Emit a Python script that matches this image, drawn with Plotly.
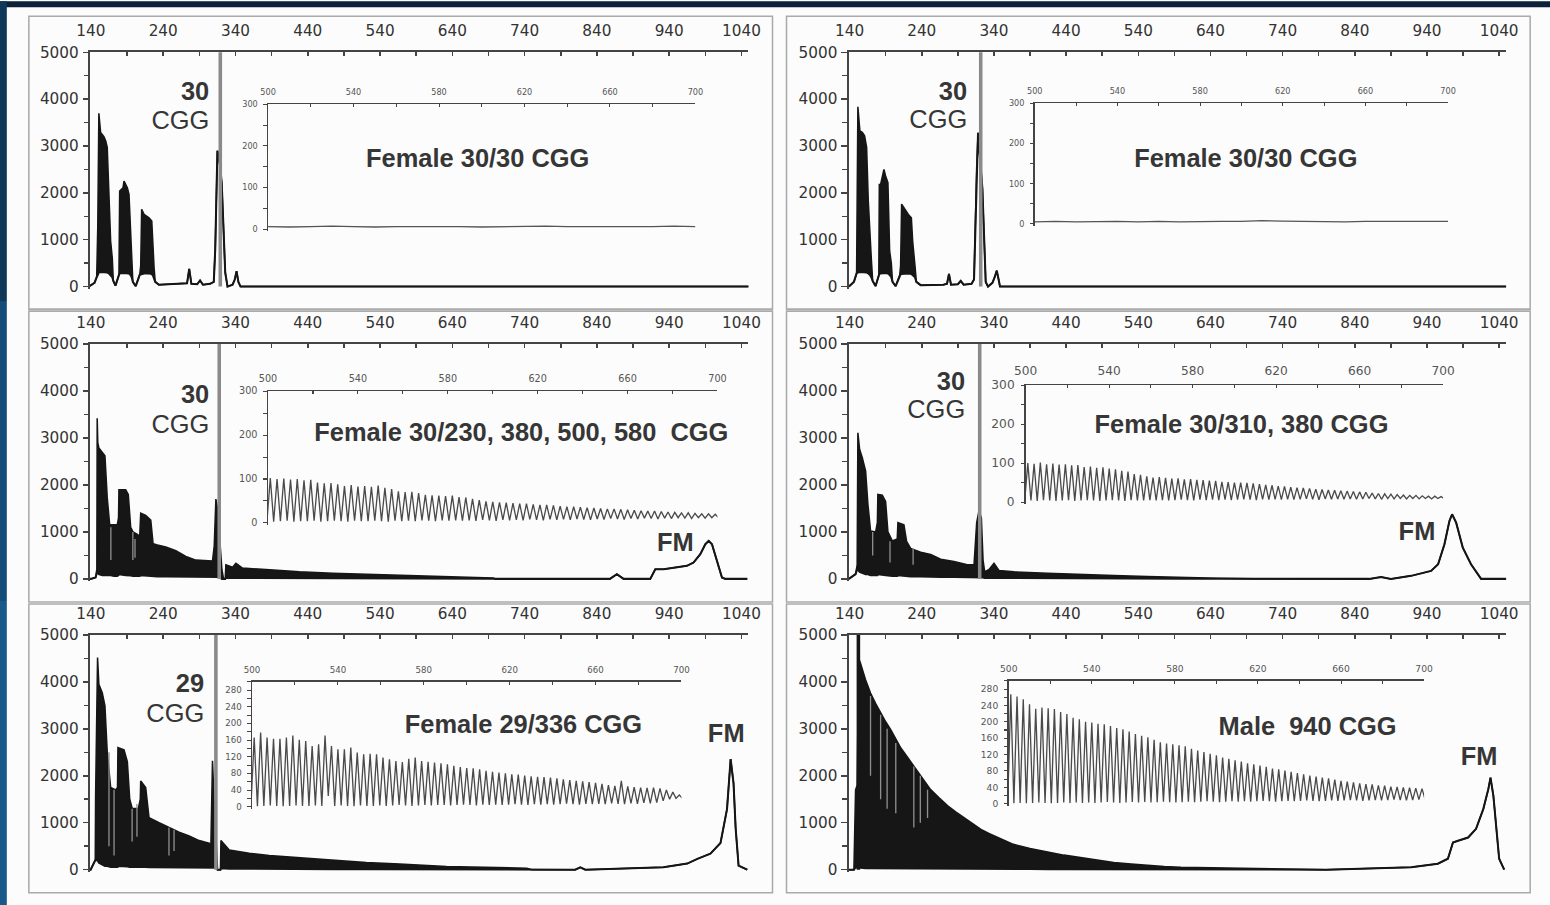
import plotly.graph_objects as go

W, H = 1550, 905

# ------------------------------------------------------------------ data
# Main electropherograms: fragment size (bp), upper and lower envelope of the trace (RFU)
p1_bp = [137, 140, 145, 148, 149.5, 151, 153.4, 158, 160.4, 162.6, 165, 167.3, 169.6, 171, 174, 178.8, 179.8, 184.4, 185.8, 190.4, 192.7, 195.1, 196.4, 198, 202, 207.5, 208.9, 210.2, 213.5, 220.4, 224.2, 226, 227.4, 229, 234, 260, 273, 276, 279, 287, 291, 295, 305, 310, 312, 315, 318.5, 321, 323, 325.8, 329, 336, 339, 341.5, 344, 347, 1050]
p1_hi = [0, 30, 80, 200, 1300, 3700, 3290, 3200, 3110, 2970, 1830, 970, 600, 120, 20, 250, 2040, 2110, 2250, 2110, 1970, 1110, 600, 100, 10, 250, 450, 1650, 1540, 1470, 1400, 760, 400, 100, 40, 60, 70, 380, 60, 50, 130, 40, 60, 100, 800, 2900, 2600, 2200, 1200, 300, 0, 40, 150, 330, 100, 0, 0]
p1_lo = [0, 30, 80, 200, 250, 300, 310, 310, 300, 300, 280, 250, 200, 120, 20, 250, 280, 290, 290, 290, 280, 240, 200, 100, 10, 250, 260, 270, 280, 280, 270, 230, 180, 100, 40, 60, 70, 380, 60, 50, 130, 40, 60, 100, 800, 2900, 2600, 2200, 1200, 300, 0, 40, 150, 330, 100, 0, 0]

p2_bp = [139, 146, 149.7, 151.5, 154.3, 157.6, 160.8, 163.6, 165.9, 168.2, 170.1, 172, 176, 180.5, 181.2, 183, 187.6, 189.9, 193.1, 195.5, 197.8, 199.5, 203.8, 209.5, 210.7, 212.1, 216.3, 221.4, 225.6, 227.4, 230.6, 232.5, 238.5, 270, 275, 277.7, 280.5, 290, 294, 298, 309, 312.4, 316, 318, 324, 326.3, 328.6, 331.8, 337.9, 341, 343.9, 346.5, 348.4, 1050]
p2_hi = [0, 100, 280, 3835, 3320, 3290, 3220, 2970, 1830, 970, 600, 120, 10, 250, 2180, 2180, 2500, 2360, 2220, 760, 500, 100, 10, 250, 450, 1760, 1650, 1540, 1470, 970, 450, 100, 30, 40, 60, 270, 40, 50, 120, 40, 60, 150, 2500, 3280, 2090, 800, 100, 0, 80, 200, 340, 150, 0, 0]
p2_lo = [0, 100, 280, 300, 310, 310, 300, 300, 280, 250, 200, 120, 10, 250, 270, 280, 290, 290, 280, 250, 200, 100, 10, 250, 260, 270, 280, 280, 270, 240, 200, 100, 30, 40, 60, 270, 40, 50, 120, 40, 60, 150, 2500, 3280, 2090, 800, 100, 0, 80, 200, 340, 150, 0, 0]

p3_bp = [137, 139.6, 146.5, 148.2, 148.7, 149.5, 151, 155.7, 159.4, 162.6, 165.9, 171.9, 176.5, 178.2, 178.8, 188.1, 191.7, 195, 198.2, 204.2, 207.5, 208.9, 215.8, 222.8, 226, 232, 243.6, 257.5, 271.3, 285.2, 299, 308.2, 310.6, 312.9, 315.2, 317.5, 321.2, 323.5, 325.8, 326.7, 336, 340.6, 349.8, 382, 428.4, 474.6, 521, 567, 590, 640, 696.5, 700, 858, 867.6, 877, 913.8, 920.8, 932.3, 946, 964.5, 973.7, 983, 990, 994.6, 999.2, 1006, 1013, 1017.8, 1048]
p3_hi = [0, 0, 30, 200, 3420, 2900, 2790, 2690, 2620, 1730, 1160, 1150, 1150, 1300, 1900, 1900, 1800, 1100, 1000, 950, 900, 1400, 1350, 1250, 750, 720, 680, 600, 480, 400, 380, 380, 700, 1700, 1500, 900, 200, 0, 0, 300, 250, 330, 230, 200, 150, 120, 100, 80, 60, 40, 20, 0, 0, 100, 0, 0, 206, 206, 241, 277, 348, 525, 738, 809, 738, 383, 28, 0, 0]
p3_lo = [0, 0, 30, 150, 150, 150, 100, 80, 80, 80, 80, 60, 60, 80, 100, 80, 80, 70, 60, 60, 60, 80, 70, 60, 50, 50, 50, 50, 40, 40, 40, 40, 40, 40, 40, 40, 0, 0, 0, 20, 20, 20, 20, 15, 10, 10, 10, 8, 5, 5, 5, 0, 0, 100, 0, 0, 206, 206, 241, 277, 348, 525, 738, 809, 738, 383, 28, 0, 0]

p4_bp = [139, 148.3, 150.5, 151.5, 153.9, 157.6, 162.2, 165.4, 169.1, 176.1, 178.5, 179.2, 185.3, 189.9, 193.1, 199.2, 206, 207, 215.3, 219, 224.6, 238.5, 252.3, 266.2, 284.6, 303.2, 312.4, 316.1, 319.3, 322.6, 324.9, 327.2, 333.2, 340.1, 347, 367.8, 414.2, 460.4, 506.5, 552.8, 599, 651, 700, 860, 876.4, 890, 918, 945.7, 955.4, 964.2, 971.1, 974.8, 980.4, 989.6, 1001, 1015, 1050]
p4_hi = [0, 100, 300, 3110, 2760, 2580, 2300, 1590, 1020, 1000, 1200, 1800, 1780, 1650, 1000, 810, 850, 1200, 1150, 800, 650, 570, 520, 420, 370, 300, 300, 1200, 1450, 1300, 400, 150, 200, 330, 180, 150, 120, 90, 70, 50, 40, 15, 0, 0, 40, 0, 64, 170, 312, 738, 1234, 1376, 1198, 666, 312, 0, 0]
p4_lo = [0, 100, 200, 200, 150, 120, 100, 100, 80, 80, 80, 100, 80, 80, 70, 60, 60, 80, 70, 60, 50, 50, 40, 40, 40, 40, 40, 40, 40, 40, 30, 20, 20, 20, 20, 15, 12, 10, 8, 6, 5, 3, 0, 0, 40, 0, 64, 170, 312, 738, 1234, 1376, 1198, 666, 312, 0, 0]

p5_bp = [137, 139.6, 146, 146.5, 149.2, 151, 155.7, 159.4, 162.6, 167.3, 174.2, 176.8, 177.4, 185.8, 190.4, 193.7, 197.3, 205.6, 208.3, 208.9, 215.8, 220.4, 234.3, 248.2, 262, 275.9, 289.8, 306, 308.2, 310.6, 313.5, 315.2, 319.2, 319.9, 331.4, 359, 386.8, 428.4, 474.6, 521, 567, 632, 743, 750, 810, 817, 824, 932, 965, 979, 997, 1011, 1020, 1025, 1029, 1032, 1036, 1048]
p5_hi = [0, 0, 200, 1570, 4520, 3950, 3770, 3490, 2500, 1750, 1700, 1750, 2600, 2550, 2300, 1500, 1300, 1300, 1500, 1890, 1750, 1110, 1000, 900, 800, 720, 620, 550, 2320, 1400, 600, 0, 0, 620, 420, 350, 300, 250, 200, 150, 120, 70, 30, 0, 0, 50, 0, 50, 130, 230, 340, 570, 1290, 2355, 1845, 870, 85, 0]
p5_lo = [0, 0, 200, 200, 200, 150, 100, 80, 80, 60, 60, 60, 80, 80, 70, 60, 60, 60, 60, 70, 60, 50, 50, 40, 40, 40, 40, 40, 40, 40, 40, 0, 0, 30, 20, 20, 15, 15, 10, 10, 8, 5, 3, 0, 0, 50, 0, 50, 130, 230, 340, 570, 1290, 2355, 1845, 870, 85, 0]

p6_bp = [139, 146, 148.3, 150.5, 152.5, 155, 162, 169, 176, 183, 190, 197, 204, 211, 220, 229, 240, 252, 264, 276, 287, 298, 310, 322, 333, 345, 356, 367, 390, 415, 437, 460, 483, 506, 530, 553, 576, 599, 640, 680, 720, 765, 800, 918, 955, 969, 976, 983, 997, 1008, 1018, 1025, 1028, 1032, 1036, 1040, 1047]
p6_hi = [0, 0, 1700, 1800, 4500, 4400, 4050, 3760, 3540, 3340, 3150, 2980, 2780, 2590, 2400, 2200, 1950, 1710, 1530, 1360, 1230, 1110, 980, 860, 770, 690, 610, 540, 450, 370, 310, 260, 200, 155, 120, 85, 65, 50, 40, 30, 20, 15, 0, 50, 127, 233, 580, 615, 685, 870, 1290, 1715, 1960, 1570, 870, 233, 0]
p6_lo = [0, 0, 50, 50, 50, 40, 30, 30, 30, 30, 30, 30, 30, 30, 30, 30, 30, 25, 25, 25, 25, 20, 20, 20, 20, 20, 15, 15, 15, 12, 12, 10, 10, 8, 8, 6, 5, 5, 4, 3, 2, 2, 0, 50, 127, 233, 580, 615, 685, 870, 1290, 1715, 1960, 1570, 870, 233, 0]

# lighter streaks (low repeat peaks) visible inside the dense stutter region: bp, from, to (RFU)
streak_bp = [[], [],
             [167.6, 198, 201],
             [172, 196, 228],
             [165, 172, 197, 203.7, 248, 255],
             [169, 183, 192, 204, 229, 238, 248]]
streak_lo = [[], [], [400, 400, 450], [500, 350, 300], [500, 300, 600, 700, 300, 400],
             [2000, 1500, 1300, 1200, 900, 1000, 1100]]
streak_hi = [[], [], [1100, 1000, 850], [1000, 800, 650], [2500, 1700, 1300, 1400, 900, 850],
             [3700, 3300, 3000, 2700, 2200, 2000, 1700]]

# off-scale normal-allele peak (bp) in each panel
normal_peak_bp = [319, 321.7, 317.5, 320.3, 312.9, 152.2]
normal_peak_rfu = [9000, 9000, 9000, 9000, 9000, 9000]

# Insets (500-700 bp): CGG repeat peak positions, peak tops and troughs (RFU)
inset_peak_bp = [501, 504, 507, 510, 513, 516, 519, 522, 525, 528, 531, 534, 537, 540, 543, 546, 549, 552, 555, 558,
                 561, 564, 567, 570, 573, 576, 579, 582, 585, 588, 591, 594, 597, 600, 603, 606, 609, 612, 615, 618,
                 621, 624, 627, 630, 633, 636, 639, 642, 645, 648, 651, 654, 657, 660, 663, 666, 669, 672, 675, 678,
                 681, 684, 687, 690, 693, 696, 699]
i3_top = [102, 100, 101, 99, 100, 97, 98, 92, 90, 91, 88, 84, 86, 83, 84, 82, 85, 80, 77, 72, 70, 71, 68, 64, 63, 62, 61, 62, 59, 58, 55, 52, 49, 48, 47, 46, 45, 44, 44, 42, 41, 41, 40, 38, 37, 37, 36, 35, 34, 33, 32, 32, 31, 30, 29, 28, 27, 27, 26, 25, 24, 23, 23, 22, 21, 21, 20]
i3_bot = [4, 3, 4, 5, 3, 4, 4, 5, 3, 4, 5, 4, 3, 5, 4, 4, 5, 4, 3, 5, 4, 5, 4, 6, 5, 4, 6, 5, 6, 5, 6, 5, 7, 6, 5, 7, 6, 7, 6, 8, 7, 6, 8, 7, 8, 7, 9, 8, 7, 9, 8, 10, 9, 8, 10, 9, 11, 10, 9, 11, 10, 12, 11, 10, 12, 11, 12]
i4_top = [100, 98, 101, 97, 99, 96, 97, 94, 95, 90, 91, 88, 89, 86, 84, 80, 78, 72, 70, 66, 63, 64, 62, 60, 61, 58, 59, 57, 56, 55, 54, 52, 51, 50, 50, 49, 48, 46, 44, 43, 41, 40, 38, 37, 36, 35, 33, 32, 31, 30, 29, 28, 27, 26, 25, 23, 22, 21, 20, 19, 18, 17, 17, 16, 15, 15, 14]
i4_bot = [3, 4, 3, 5, 4, 3, 4, 5, 3, 4, 5, 4, 3, 4, 5, 4, 3, 5, 4, 4, 5, 4, 5, 4, 5, 6, 5, 4, 6, 5, 6, 5, 6, 5, 6, 7, 6, 5, 7, 6, 7, 6, 7, 6, 7, 8, 7, 6, 8, 7, 8, 7, 8, 7, 8, 9, 8, 7, 9, 8, 9, 8, 9, 8, 9, 8, 9]
i5_top = [166, 178, 166, 163, 163, 166, 171, 161, 158, 146, 150, 171, 146, 138, 138, 142, 130, 126, 127, 126, 118, 114, 110, 107, 115, 118, 110, 108, 106, 104, 102, 98, 95, 93, 92, 90, 86, 84, 82, 80, 78, 77, 75, 73, 72, 71, 70, 68, 66, 64, 62, 61, 59, 57, 55, 52, 50, 62, 49, 47, 46, 45, 46, 44, 40, 35, 28]
i5_bot = [2, 1, 2, 3, 2, 1, 2, 3, 2, 2, 3, 2, 26, 2, 3, 2, 1, 3, 2, 2, 3, 2, 3, 4, 3, 2, 3, 4, 3, 4, 4, 3, 4, 5, 4, 3, 5, 4, 5, 4, 5, 6, 5, 4, 6, 5, 6, 5, 6, 7, 6, 5, 7, 6, 7, 6, 8, 7, 6, 8, 7, 9, 8, 10, 14, 18, 20]
i6_top = [267, 262, 255, 243, 232, 235, 233, 231, 224, 219, 210, 206, 200, 198, 195, 194, 190, 185, 182, 176, 170, 166, 162, 156, 150, 147, 145, 143, 140, 134, 130, 126, 122, 118, 113, 110, 106, 103, 99, 96, 93, 90, 86, 84, 81, 78, 75, 72, 69, 66, 64, 62, 59, 56, 54, 52, 50, 48, 47, 45, 44, 42, 41, 40, 39, 38, 37]
i6_bot = [2, 1, 2, 1, 2, 3, 2, 1, 2, 3, 2, 3, 2, 3, 2, 3, 4, 3, 2, 3, 4, 3, 4, 3, 4, 5, 4, 3, 4, 5, 4, 5, 6, 5, 4, 5, 6, 5, 6, 5, 6, 7, 6, 5, 6, 7, 6, 7, 8, 7, 6, 7, 8, 7, 8, 9, 8, 7, 8, 9, 8, 9, 10, 9, 8, 9, 10]
# normal-only samples: flat inset baseline
flat_bp = [500, 510, 520, 530, 540, 550, 560, 570, 580, 590, 600, 610, 620, 630, 640, 650, 660, 670, 680, 690, 700]
i1_rfu = [6, 5, 6, 7, 6, 5, 6, 6, 7, 6, 5, 6, 6, 7, 6, 6, 5, 6, 6, 7, 6]
i2_rfu = [5, 6, 5, 6, 6, 5, 6, 5, 6, 6, 6, 8, 7, 6, 6, 5, 6, 6, 5, 6, 6]

main_tick_bp = [140, 240, 340, 440, 540, 640, 740, 840, 940, 1040]
main_tick_rfu = [0, 1000, 2000, 3000, 4000, 5000]
inset_tick_bp = [500, 540, 580, 620, 660, 700]
inset_tick_rfu_a = [0, 100, 200, 300]
inset_tick_rfu_b = [0, 40, 80, 120, 160, 200, 240, 280]

allele_num = ["30", "30", "30", "30", "29", ""]
titles = ["Female 30/30 CGG", "Female 30/30 CGG", "Female 30/230, 380, 500, 580  CGG",
          "Female 30/310, 380 CGG", "Female 29/336 CGG", "Male  940 CGG"]
fm_label = [False, False, True, True, True, True]

mains = [(p1_bp, p1_hi, p1_lo), (p2_bp, p2_hi, p2_lo), (p3_bp, p3_hi, p3_lo),
         (p4_bp, p4_hi, p4_lo), (p5_bp, p5_hi, p5_lo), (p6_bp, p6_hi, p6_lo)]
insets = [None, None, (i3_top, i3_bot), (i4_top, i4_bot), (i5_top, i5_bot), (i6_top, i6_bot)]
flats = [i1_rfu, i2_rfu, None, None, None, None]

# ------------------------------------------------------------------ layout (pixels)
def fx(x):
    return x / W


def fy(y):
    return 1 - y / H


main_x_px = [(90, 748), (848, 1505)]
main_y_px = [(51, 287.8), (343, 580.3), (634, 871.3)]
inset_px = [  # x0, x1, ytop, ybottom
    (268, 695, 103, 230), (1034, 1447, 102, 224.7),
    (268, 717, 390, 524.2), (1025, 1442, 384, 503),
    (252, 681, 681, 808), (1008, 1423, 680, 805)]
inset_font = [8, 8, 9.5, 12, 8.5, 9]
num_pos = [(211, 90, 119), (969, 90, 118), (211, 393, 422), (967, 380, 408), (206, 682, 712), None]
title_pos = [(478, 157), (1245, 157), (521, 431), (1241, 422), (523, 723), (1307, 725)]
fm_pos = [None, None, (675, 541), (1416, 530), (726, 732), (1478, 755)]
frames = [(29, 15, 772, 308), (786, 15, 1529, 308), (29, 310, 772, 601),
          (786, 310, 1529, 601), (29, 603, 772, 892), (786, 603, 1529, 892)]

AX = '#444444'
TXT = '#333333'
TRACE = '#161616'
LBL = '#363636'

fig = go.Figure()
layout = dict(width=W, height=H, margin=dict(l=0, r=0, t=0, b=0),
              paper_bgcolor='#fcfcfc', plot_bgcolor='rgba(0,0,0,0)', showlegend=False)
annotations = []
shapes = []


def zigzag(bps, tops, bots):
    xs, ys = [], []
    for b, t, lo in zip(bps, tops, bots):
        xs += [b - 1.5, b]
        ys += [lo, t]
    xs.append(bps[-1] + 1.5)
    ys.append(bots[-1])
    return xs, ys


for i in range(6):
    col, row = i % 2, i // 2
    k, ki = i + 1, i + 7
    xa, ya = f"x{k}", f"y{k}"
    xi, yi = f"x{ki}", f"y{ki}"
    x0, x1 = main_x_px[col]
    y0, y1 = main_y_px[row]
    layout[f"xaxis{k}"] = dict(
        domain=[fx(x0), fx(x1)], range=[138.6, 1049.7], anchor=ya, side='top',
        showline=True, linecolor=AX, linewidth=2, showgrid=False, zeroline=False,
        tickmode='array', tickvals=main_tick_bp, ticks='inside', ticklen=4, tickwidth=1.5, tickcolor=AX,
        minor=dict(tick0=140, dtick=50, ticks='inside', ticklen=4, tickwidth=1.5, tickcolor=AX),
        tickfont=dict(family='DejaVu Sans', size=15, color=TXT), ticklabelstandoff=8)
    layout[f"yaxis{k}"] = dict(
        domain=[fy(y1), fy(y0)], range=[-50, 5000], anchor=xa,
        showline=True, linecolor=AX, linewidth=2, showgrid=False, zeroline=False,
        tickmode='array', tickvals=main_tick_rfu, ticks='outside', ticklen=5, tickwidth=1.5, tickcolor=AX,
        minor=dict(tick0=0, dtick=500, ticks='outside', ticklen=4, tickwidth=1.5, tickcolor=AX),
        tickfont=dict(family='DejaVu Sans', size=15, color=TXT), ticklabelstandoff=1)

    bp, hi, lo = mains[i]
    fig.add_trace(go.Scatter(x=bp, y=lo, xaxis=xa, yaxis=ya, mode='lines',
                             line=dict(color=TRACE, width=2), hoverinfo='skip'))
    fig.add_trace(go.Scatter(x=bp, y=hi, xaxis=xa, yaxis=ya, mode='lines', fill='tonexty',
                             fillcolor=TRACE, line=dict(color=TRACE, width=1.5), hoverinfo='skip'))
    if streak_bp[i]:
        sx, sy = [], []
        for b, a, c in zip(streak_bp[i], streak_lo[i], streak_hi[i]):
            sx += [b, b, None]
            sy += [a, c, None]
        fig.add_trace(go.Scatter(x=sx, y=sy, xaxis=xa, yaxis=ya, mode='lines',
                                 line=dict(color='#8f8f8f', width=1.3), hoverinfo='skip'))
    pk = normal_peak_bp[i]
    fig.add_trace(go.Scatter(x=[pk, pk], y=[0, normal_peak_rfu[i]], xaxis=xa, yaxis=ya, mode='lines',
                             line=dict(color='#8a8a8a' if i < 5 else TRACE, width=3.5), hoverinfo='skip'))

    # inset
    ix0, ix1, iy0, iy1 = inset_px[i]
    big = i >= 4
    fs = inset_font[i]
    layout[f"xaxis{ki}"] = dict(
        domain=[fx(ix0), fx(ix1)], range=[500, 700], anchor=yi, side='top',
        showline=True, linecolor=AX, linewidth=1.5, showgrid=False, zeroline=False,
        tickmode='array', tickvals=inset_tick_bp, ticks='inside', ticklen=3, tickwidth=1, tickcolor=AX,
        minor=dict(tick0=500, dtick=20, ticks='inside', ticklen=3, tickwidth=1, tickcolor=AX),
        tickfont=dict(family='DejaVu Sans', size=fs, color='#555'), ticklabelstandoff=4)
    layout[f"yaxis{ki}"] = dict(
        domain=[fy(iy1), fy(iy0)], range=[-5, 300], anchor=xi,
        showline=True, linecolor=AX, linewidth=1.5, showgrid=False, zeroline=False,
        tickmode='array', tickvals=inset_tick_rfu_b if big else inset_tick_rfu_a,
        ticks='outside', ticklen=3, tickwidth=1, tickcolor=AX,
        minor=dict(tick0=0, dtick=20 if big else 50, ticks='outside', ticklen=3, tickwidth=1, tickcolor=AX),
        tickfont=dict(family='DejaVu Sans', size=fs, color='#555'), ticklabelstandoff=4)
    if insets[i] is not None:
        tops, bots = insets[i]
        zx, zy = zigzag(inset_peak_bp, tops, bots)
        fig.add_trace(go.Scatter(x=zx, y=zy, xaxis=xi, yaxis=yi, mode='lines',
                                 line=dict(color='#4a4a4a', width=1.3), hoverinfo='skip'))
    else:
        fig.add_trace(go.Scatter(x=flat_bp, y=flats[i], xaxis=xi, yaxis=yi, mode='lines',
                                 line=dict(color='#555', width=1.3), hoverinfo='skip'))

    # texts
    if num_pos[i] is not None:
        nx, ny1, ny2 = num_pos[i]
        annotations.append(dict(x=fx(nx), y=fy(ny1), xref='paper', yref='paper', text='<b>' + allele_num[i] + '</b>',
                                showarrow=False, xanchor='right', yanchor='middle',
                                font=dict(family='Liberation Sans, Arial', size=25, color=LBL)))
        annotations.append(dict(x=fx(nx), y=fy(ny2), xref='paper', yref='paper', text='CGG',
                                showarrow=False, xanchor='right', yanchor='middle',
                                font=dict(family='Liberation Sans, Arial', size=25, color=LBL)))
    tx, ty = title_pos[i]
    annotations.append(dict(x=fx(tx), y=fy(ty), xref='paper', yref='paper', text='<b>' + titles[i] + '</b>',
                            showarrow=False, xanchor='center', yanchor='middle',
                            font=dict(family='Liberation Sans, Arial', size=25, color=LBL)))
    if fm_label[i]:
        mx, my = fm_pos[i]
        annotations.append(dict(x=fx(mx), y=fy(my), xref='paper', yref='paper', text='<b>FM</b>',
                                showarrow=False, xanchor='center', yanchor='middle',
                                font=dict(family='Liberation Sans, Arial', size=25, color=LBL)))
    a0, b0, a1, b1 = frames[i]
    shapes.append(dict(type='rect', xref='paper', yref='paper', x0=fx(a0), x1=fx(a1), y0=fy(b1), y1=fy(b0),
                       line=dict(color='#aaaaaa', width=1.5), fillcolor='rgba(0,0,0,0)', layer='below'))

# dark page border (top and left)
shapes.append(dict(type='rect', xref='paper', yref='paper', x0=0, x1=1, y0=fy(6), y1=1,
                   line=dict(width=0), fillcolor='#0b2239', layer='above'))
for (ya0, ya1, c) in [(0, 300, '#0f3858'), (300, 600, '#134c78'), (600, 905, '#175a8a')]:
    shapes.append(dict(type='rect', xref='paper', yref='paper', x0=0, x1=fx(7), y0=fy(ya1), y1=fy(ya0),
                       line=dict(width=0), fillcolor=c, layer='above'))

layout['annotations'] = annotations
layout['shapes'] = shapes
fig.update_layout(**layout)
fig.write_html(
    "out.html",
    config=dict(displayModeBar=False, staticPlot=True),
    post_script=("var d=document.getElementById('{plot_id}');"
                 "d.style.transformOrigin='775px 452.5px';d.style.transform='scale(1.0173)';"
                 "document.body.style.margin='0';document.body.style.padding='0';"
                 "document.body.style.overflow='hidden';"
                 "document.documentElement.style.overflow='hidden';"))
